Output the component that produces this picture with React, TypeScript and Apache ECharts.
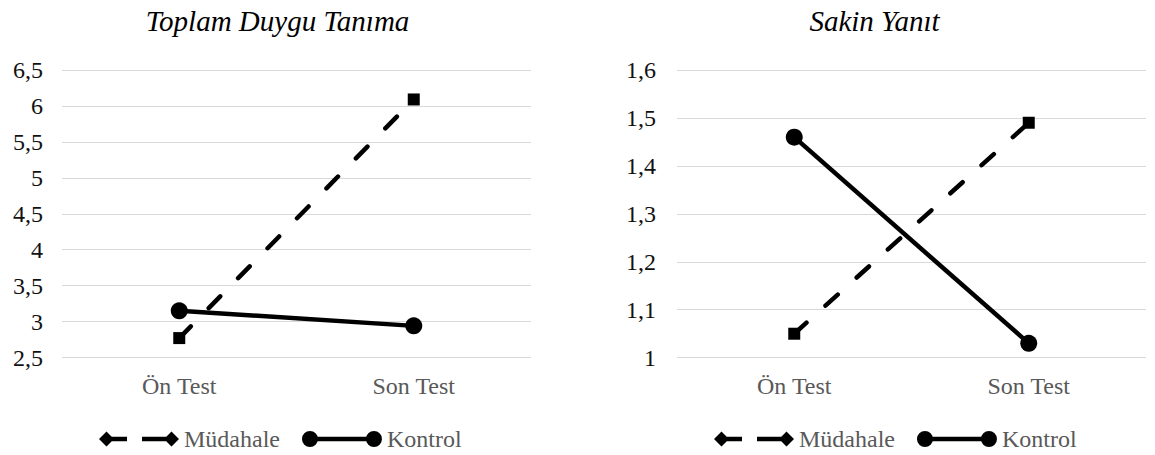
import React, { useEffect, useRef } from "react";
import * as echarts from "echarts";

const categories = ["Ön Test", "Son Test"];
const seriesNames = ["Müdahale", "Kontrol"];
const chartTitles = ["Toplam Duygu Tanıma", "Sakin Yanıt"];

const toplamMudahale = [2.77, 6.09];
const toplamKontrol = [3.15, 2.94];
const sakinMudahale = [1.05, 1.49];
const sakinKontrol = [1.46, 1.03];

const toplamAxis = { min: 2.5, max: 6.5, interval: 0.5 };
const sakinAxis = { min: 1.0, max: 1.6, interval: 0.1 };

const FONT = "Liberation Serif";

const MUD_ICON =
  "path://M0 7.5L7.5 0L15 7.5L7.5 15Z M7.5 5.25H28V9.75H7.5Z M43 5.25H72.5V9.75H43Z M65 7.5L72.5 0L80 7.5L72.5 15Z";
const KON_ICON =
  "path://M0 8A8 8 0 1 1 16 8A8 8 0 1 1 0 8Z M8 5.75H72V10.25H8Z M64 8A8 8 0 1 1 80 8A8 8 0 1 1 64 8Z";

const fmt = (v: number) => String(Math.round(v * 10) / 10).replace(".", ",");

export default function App() {
  const ref = useRef<HTMLDivElement>(null);
  useEffect(() => {
    if (!ref.current) return;
    const chart = echarts.init(ref.current, undefined, { renderer: "svg" });

    const grids = [
      { left: 62, top: 70, width: 469, height: 287.5 },
      { left: 677, top: 70, width: 469, height: 287.7 },
    ];
    const axisDefs = [toplamAxis, sakinAxis];
    const yMargins = [19, 21];

    const xAxis = grids.map((_, i) => ({
      type: "category" as const,
      gridIndex: i,
      data: categories,
      boundaryGap: true,
      axisLine: { show: false },
      axisTick: { show: false },
      axisLabel: { color: "#595959", fontSize: 24, fontFamily: FONT, margin: 16 },
    }));
    const yAxis = grids.map((_, i) => ({
      type: "value" as const,
      gridIndex: i,
      min: axisDefs[i].min,
      max: axisDefs[i].max,
      interval: axisDefs[i].interval,
      axisLine: { show: false },
      axisTick: { show: false },
      splitLine: { lineStyle: { color: "#d9d9d9", width: 1.2 } },
      axisLabel: { color: "#111", fontSize: 24, fontFamily: FONT, margin: yMargins[i], formatter: fmt },
    }));

    const dashed = (data: number[], idx: number) => ({
      name: seriesNames[0],
      type: "line" as const,
      xAxisIndex: idx,
      yAxisIndex: idx,
      data,
      symbol: "rect",
      symbolSize: 12,
      color: "#000",
      itemStyle: { color: "#000", borderWidth: 0 },
      lineStyle: { color: "#000", width: 4.5, type: [16.5, 25.5], cap: "round" },
      z: 2,
    });
    const solid = (data: number[], idx: number) => ({
      name: seriesNames[1],
      type: "line" as const,
      xAxisIndex: idx,
      yAxisIndex: idx,
      data,
      symbol: "circle",
      symbolSize: 17,
      color: "#000",
      itemStyle: { color: "#000", borderWidth: 0 },
      lineStyle: { color: "#000", width: 4.5, type: "solid" },
      z: 3,
    });

    const legendBase = {
      top: 427,
      orient: "horizontal" as const,
      padding: 0,
      itemGap: 22,
      itemWidth: 80,
      itemHeight: 16,
      selectedMode: false,
      itemStyle: { color: "#000", borderWidth: 0 },
      textStyle: { color: "#595959", fontSize: 24, fontFamily: FONT },
      data: [
        { name: seriesNames[0], icon: MUD_ICON },
        { name: seriesNames[1], icon: KON_ICON },
      ],
    };

    const titleStyle = {
      fill: "#000",
      fontFamily: FONT,
      fontSize: 29,
      fontStyle: "italic",
      textAlign: "center",
      textVerticalAlign: "middle",
    };

    chart.setOption({
      animation: false,
      backgroundColor: "#fff",
      grid: grids,
      xAxis,
      yAxis,
      legend: [
        { ...legendBase, left: 99 },
        { ...legendBase, left: 714 },
      ],
      graphic: [
        { type: "text", x: 277.5, y: 21, style: { ...titleStyle, text: chartTitles[0] } },
        { type: "text", x: 874.5, y: 21, style: { ...titleStyle, text: chartTitles[1] } },
      ],
      series: [
        dashed(toplamMudahale, 0),
        solid(toplamKontrol, 0),
        dashed(sakinMudahale, 1),
        solid(sakinKontrol, 1),
      ],
    });
    return () => chart.dispose();
  }, []);
  return (
    <div
      ref={ref}
      style={{ position: "fixed", left: 0, top: 0, width: 1155, height: 455, background: "#fff" }}
    />
  );
}
